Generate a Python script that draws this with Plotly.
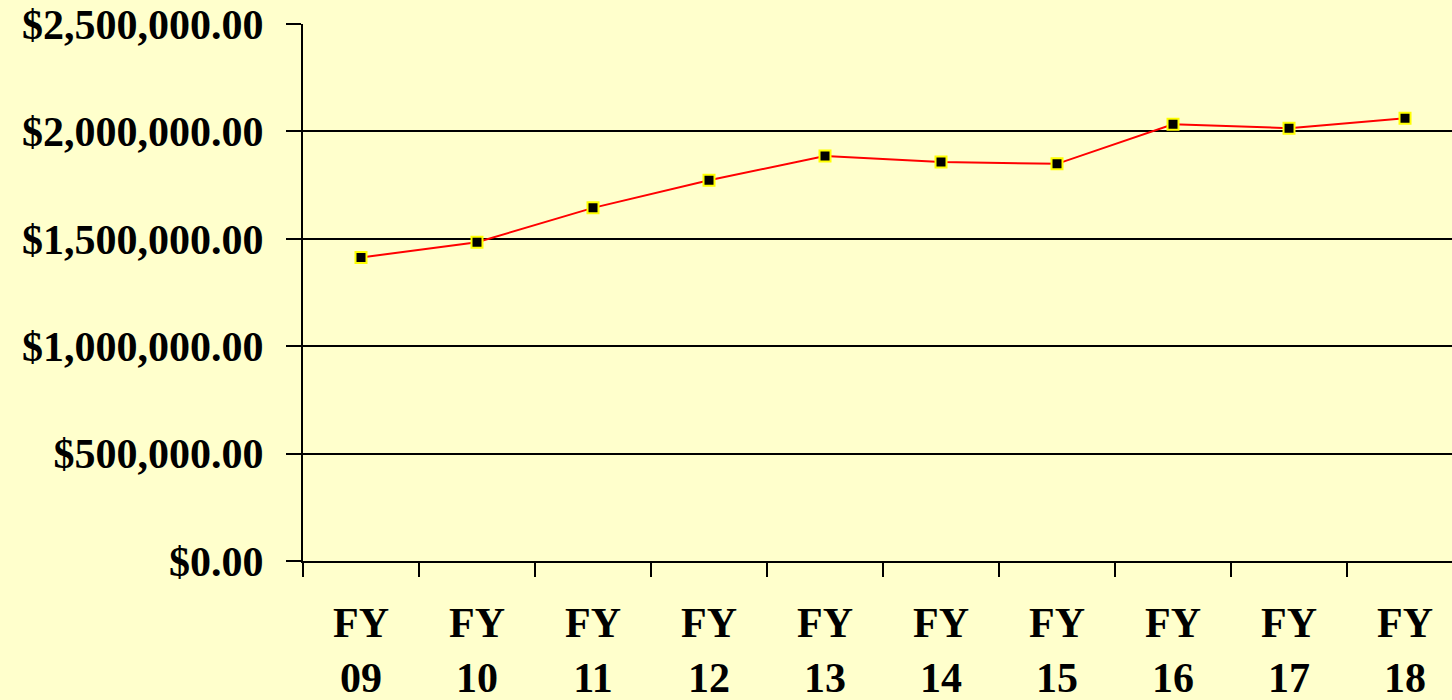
import plotly.graph_objects as go

categories = ["FY<br>09", "FY<br>10", "FY<br>11", "FY<br>12", "FY<br>13",
              "FY<br>14", "FY<br>15", "FY<br>16", "FY<br>17", "FY<br>18"]
values = [1413000, 1484000, 1644000, 1773000, 1885000,
          1857000, 1849000, 2033000, 2015000, 2061000]
y_tickvals = [0, 500000, 1000000, 1500000, 2000000, 2500000]
y_ticktext = ["$0.00", "$500,000.00", "$1,000,000.00", "$1,500,000.00",
              "$2,000,000.00", "$2,500,000.00"]

BG = "#FFFFCC"
FONT = dict(family="Liberation Serif, Times New Roman, serif", size=42,
            color="black", weight="bold")

fig = go.Figure()
fig.add_trace(go.Scatter(
    x=categories, y=values, mode="lines+markers",
    line=dict(color="#FF0000", width=2),
    marker=dict(symbol="square", size=11, color="black",
                line=dict(color="#FFFF00", width=2)),
    showlegend=False, hoverinfo="skip",
))

fig.update_layout(
    width=1452, height=700,
    paper_bgcolor=BG, plot_bgcolor=BG,
    margin=dict(l=303, r=0, t=24, b=139),
    font=FONT,
)
fig.update_xaxes(
    type="category", categoryorder="array", categoryarray=categories,
    range=[-0.5, 9.405],
    tickson="boundaries", ticks="outside", ticklen=14, tickwidth=2, tickcolor="black",
    showline=True, linecolor="black", linewidth=2,
    showgrid=False, zeroline=False, tickfont=FONT, ticklabelstandoff=24,
)
fig.update_yaxes(
    range=[0, 2500000],
    tickmode="array", tickvals=y_tickvals, ticktext=y_ticktext,
    ticks="outside", ticklen=15, tickwidth=2, tickcolor="black",
    showline=True, linecolor="black", linewidth=2,
    showgrid=True, gridcolor="black", gridwidth=2, zeroline=False,
    tickfont=FONT, ticklabelstandoff=14,
)

fig.write_html(
    "out.html",
    config={"displayModeBar": False},
    post_script="document.body.style.margin='0';document.body.style.padding='0';"
                "document.body.style.overflow='hidden';",
)
